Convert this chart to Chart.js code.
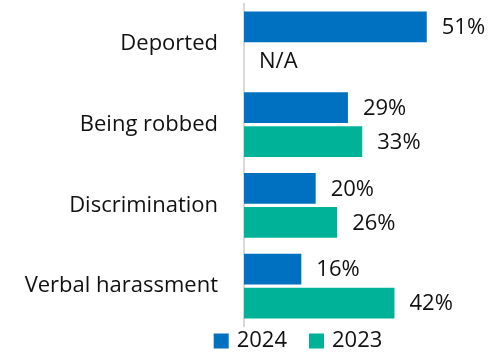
<!DOCTYPE html>
<html>
<head>
<meta charset="utf-8">
<script src="https://cdn.jsdelivr.net/npm/chart.js@4.4.1/dist/chart.umd.min.js"></script>
<style>
    html, body { margin: 0; padding: 0; background: #fff; }
    #wrap { width: 492px; height: 354px; }
</style>
</head>
<body>
<div id="wrap"><canvas id="myChart" width="492" height="354"></canvas></div>

<script>
    const categories = ["Deported", "Being robbed", "Discrimination", "Verbal harassment"];
    const values2024 = [51, 29, 20, 16];
    const values2023 = [null, 33, 26, 42];
    const seriesNames = ["2024", "2023"];
    const missingLabel = "N/A";

    const textFont = "'Open Sans'";
    const textSize = 22;
    const textColor = "#111111";

    // percent labels next to each bar, "N/A" where a value is missing
    const valueLabels = {
        id: "valueLabels",
        afterDatasetsDraw(chart) {
            const ctx = chart.ctx;
            const xScale = chart.scales.x;
            const yScale = chart.scales.y;
            ctx.save();
            ctx.font = textSize + "px " + textFont;
            ctx.fillStyle = textColor;
            ctx.textAlign = "left";
            ctx.textBaseline = "middle";
            chart.data.datasets.forEach((ds, di) => {
                const meta = chart.getDatasetMeta(di);
                meta.data.forEach((bar, i) => {
                    const v = ds.data[i];
                    let y = bar.y;
                    if (!isFinite(y)) {
                        y = yScale.getPixelForValue(i);
                    }
                    if (v === null || v === undefined) {
                        ctx.fillText(missingLabel, xScale.getPixelForValue(0) + 15, y + 1);
                    } else {
                        ctx.fillText(v + "%", bar.x + 15, y + 1);
                    }
                });
            });
            ctx.restore();
        }
    };

    // small legend under the plot: square swatch + year
    const bottomLegend = {
        id: "bottomLegend",
        afterDraw(chart) {
            const ctx = chart.ctx;
            const box = 15, gap = 8, spacing = 22;
            const centerX = 298, centerY = 341;
            ctx.save();
            ctx.font = textSize + "px " + textFont;
            ctx.textBaseline = "middle";
            ctx.textAlign = "left";
            const items = chart.data.datasets.map(ds => ({
                text: ds.label,
                color: ds.backgroundColor,
                w: box + gap + ctx.measureText(ds.label).width
            }));
            const total = items.reduce((s, it) => s + it.w, 0) + spacing * (items.length - 1);
            let x = centerX - total / 2;
            items.forEach(it => {
                ctx.fillStyle = it.color;
                ctx.fillRect(x, centerY - box / 2, box, box);
                ctx.fillStyle = textColor;
                ctx.fillText(it.text, x + box + gap, centerY);
                x += it.w + spacing;
            });
            ctx.restore();
        }
    };

    const myChart = new Chart("myChart", {
        type: "bar",
        data: {
            labels: categories,
            datasets: [{
                label: seriesNames[0],
                data: values2024,
                backgroundColor: "#0070C0",
                categoryPercentage: 0.84,
                barPercentage: 0.91
            }, {
                label: seriesNames[1],
                data: values2023,
                backgroundColor: "#00B398",
                categoryPercentage: 0.84,
                barPercentage: 0.91
            }]
        },
        options: {
            indexAxis: "y",
            responsive: false,
            animation: false,
            layout: {
                padding: {left: 0, right: 33, top: 3.5, bottom: 27.5}
            },
            scales: {
                x: {
                    display: false,
                    min: 0,
                    max: 60
                },
                y: {
                    grid: {display: false},
                    border: {display: true, color: "#d9d9d9", width: 2},
                    ticks: {
                        padding: 18,
                        color: textColor,
                        font: {family: textFont, size: textSize}
                    },
                    afterFit(scale) {
                        scale.width = 244;
                        scale.paddingTop = 0;
                        scale.paddingBottom = 0;
                    }
                }
            },
            plugins: {
                tooltip: {enabled: false},
                legend: {display: false}
            }
        },
        plugins: [valueLabels, bottomLegend]
    });
</script>
</body>
</html>
